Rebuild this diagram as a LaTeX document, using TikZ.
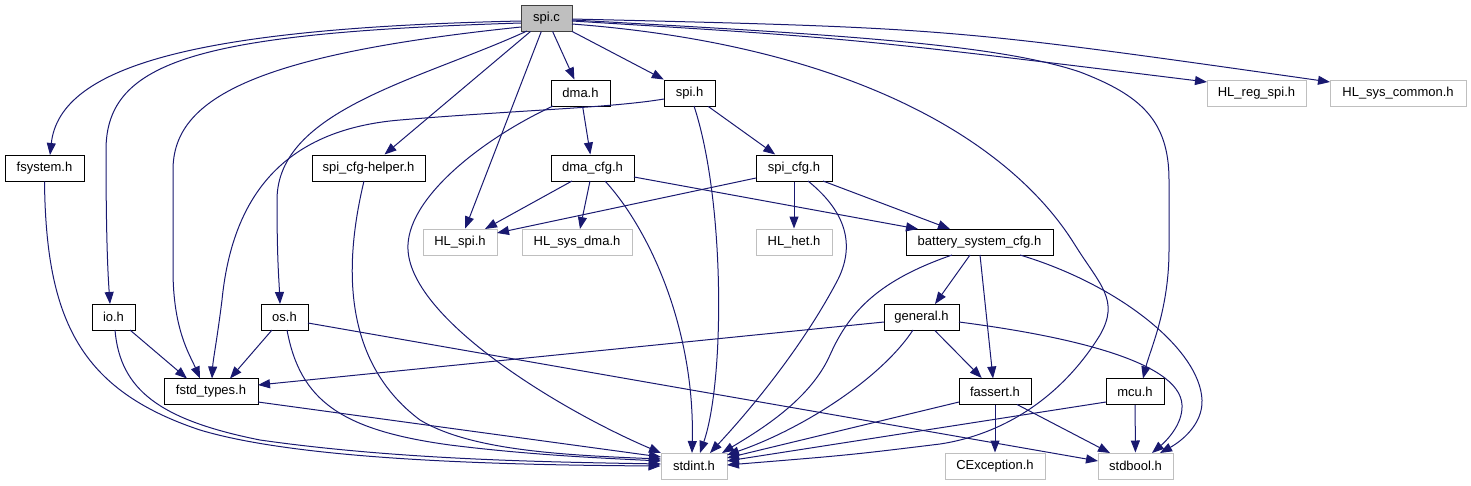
\documentclass[tikz,border=0pt]{standalone}
\usepackage{fontspec}
\setmainfont{Liberation Sans}
\usetikzlibrary{arrows.meta,calc}
\definecolor{edgeblue}{HTML}{191970}
\definecolor{lgray}{HTML}{BFBFBF}
\definecolor{dgray}{HTML}{404040}
\tikzset{
  box/.style={draw=black, line width=1pt, fill=white, minimum height=26pt, inner sep=0pt, font=\fontsize{13}{15}\selectfont},
  extbox/.style={box, draw=lgray},
  rootbox/.style={box, draw=dgray, fill=lgray},
  edge/.style={draw=edgeblue, line width=1pt, -{Triangle[length=12pt,width=9pt]}}
}
\begin{document}
\begin{tikzpicture}[x=1pt,y=-1pt]
\useasboundingbox (0,0) rectangle (1471,485);
% nodes
\node[rootbox, minimum width=51pt]  (spic)     at (546.5,18)  {spi.c};
\node[box, minimum width=59pt]      (dmah)     at (580.5,93)  {dma.h};
\node[box, minimum width=51pt]      (spih)     at (689.5,93)  {spi.h};
\node[extbox, minimum width=99pt]   (hlreg)    at (1256.5,93) {HL\_reg\_spi.h};
\node[extbox, minimum width=136pt]  (hlsys)    at (1398,93)   {HL\_sys\_common.h};
\node[box, minimum width=79pt]      (fsystem)  at (44.5,168)  {fsystem.h};
\node[box, minimum width=113pt]     (helper)   at (368.5,168) {spi\_cfg-helper.h};
\node[box, minimum width=83pt]      (dmacfg)   at (592.5,168) {dma\_cfg.h};
\node[box, minimum width=76pt]      (spicfg)   at (794,168)   {spi\_cfg.h};
\node[extbox, minimum width=74pt]   (hlspi)    at (460,242)   {HL\_spi.h};
\node[extbox, minimum width=110pt]  (hlsysdma) at (577,242)   {HL\_sys\_dma.h};
\node[extbox, minimum width=76pt]   (hlhet)    at (794,242)   {HL\_het.h};
\node[box, minimum width=147pt]     (battery)  at (979.5,242) {battery\_system\_cfg.h};
\node[box, minimum width=43pt]      (io)       at (113.5,317) {io.h};
\node[box, minimum width=47pt]      (os)       at (284.5,317) {os.h};
\node[box, minimum width=75pt]      (general)  at (921.5,317) {general.h};
\node[box, minimum width=94pt]      (fstd)     at (211,391.5) {fstd\_types.h};
\node[box, minimum width=72pt]      (fassert)  at (995,391.5) {fassert.h};
\node[box, minimum width=58pt]      (mcu)      at (1135,391.5){mcu.h};
\node[extbox, minimum width=66pt]   (stdint)   at (694,466)   {stdint.h};
\node[extbox, minimum width=100pt]  (cexc)     at (995,466)   {CException.h};
\node[extbox, minimum width=75pt]   (stdbool)  at (1135.5,466){stdbool.h};
% edges from spi.c
\draw[edge] ($(spic)+(-25.5,3)$) .. controls (200,28) and (60,65) .. ($(fsystem)+(5.5,-13)$);
\draw[edge] ($(spic)+(-25.5,5)$) .. controls (200,33) and (106,60) .. (106,150) .. controls (106,240) and (108,275) .. ($(io)+(-3.5,-13)$);
\draw[edge] ($(spic)+(-25.5,9)$) .. controls (250,55) and (173,100) .. (173,170) -- (173,270) .. controls (173,330) and (190,355) .. ($(fstd)+(-11,-13)$);
\draw[edge] ($(spic)+(-19.5,13)$) .. controls (420,80) and (277,110) .. (277,200) .. controls (277,260) and (279,280) .. ($(os)+(-4.5,-13)$);
\draw[edge] (spic) -- (helper);
\draw[edge] (spic) -- (hlspi);
\draw[edge] (spic) -- (dmah);
\draw[edge] (spic) -- (spih);
\draw[edge] ($(spic)+(25.5,3)$) .. controls (850,38) .. ($(hlreg)+(-49.5,-11)$);
\draw[edge] ($(spic)+(25.5,1)$) .. controls (950,28) .. ($(hlsys)+(-68,-11)$);
\draw[edge] ($(spic)+(25.5,2)$) .. controls (850,35) and (1000,45) .. (1080,72) .. controls (1140,95) and (1169,120) .. (1169,180) -- (1169,250) .. controls (1169,310) and (1150,350) .. ($(mcu)+(8,-13)$);
\draw[edge] ($(spic)+(25.5,6)$) .. controls (850,45) and (1010,140) .. (1075,245) .. controls (1100,285) and (1120,300) .. (1100,335) .. controls (1060,400) and (1000,435) .. (940,444) .. controls (850,455) .. ($(stdint)+(33,-1)$);
% dma.h, spi.h
\draw[edge] (dmah) -- (dmacfg);
\draw[edge] ($(dmah)+(-27.5,13)$) .. controls (480,140) and (405,200) .. (408,250) .. controls (412,320) and (560,410) .. ($(stdint)+(-33,-13)$);
\draw[edge] ($(spih)+(-25.5,6)$) .. controls (610,108) and (520,110) .. (400,120) .. controls (280,130) and (232,200) .. (222,300) .. controls (217,340) and (213,360) .. ($(fstd)+(1,-13)$);
\draw[edge] (spih) -- (spicfg);
\draw[edge] ($(spih)+(4.5,13)$) .. controls (725,200) and (725,380) .. ($(stdint)+(6,-13)$);
% dma_cfg.h
\draw[edge] ($(dmacfg)+(-20.5,13)$) -- ($(hlspi)+(25,-13)$);
\draw[edge] ($(dmacfg)+(-2.5,13)$) -- ($(hlsysdma)+(3,-13)$);
\draw[edge] ($(dmacfg)+(12.5,13)$) .. controls (650,230) and (695,330) .. ($(stdint)+(-2,-13)$);
\draw[edge] ($(dmacfg)+(41.5,9)$) -- ($(battery)+(-61.5,-13)$);
% spi_cfg.h
\draw[edge] ($(spicfg)+(-38,10)$) -- ($(hlspi)+(37,-9)$);
\draw[edge] (spicfg) -- (hlhet);
\draw[edge] ($(spicfg)+(14,13)$) .. controls (850,215) and (855,250) .. (835,285) .. controls (800,350) and (750,410) .. ($(stdint)+(16,-13)$);
\draw[edge] ($(spicfg)+(29,13)$) -- ($(battery)+(-29.5,-13)$);
% battery_system_cfg.h
\draw[edge] ($(battery)+(-9.5,13)$) -- ($(general)+(13.5,-13)$);
\draw[edge] ($(battery)+(0.5,13)$) -- ($(fassert)+(-2,-13)$);
\draw[edge] ($(battery)+(-27.5,13)$) .. controls (880,280) and (850,310) .. (830,355) .. controls (810,400) and (760,430) .. ($(stdint)+(28,-13)$);
\draw[edge] ($(battery)+(40.5,13)$) .. controls (1120,285) and (1200,350) .. (1202,400) .. controls (1203,425) and (1180,442) .. ($(stdbool)+(24.5,-13)$);
% general.h
\draw[edge] ($(general)+(-37.5,5)$) -- ($(fstd)+(47,-6.5)$);
\draw[edge] (general) -- (fassert);
\draw[edge] ($(general)+(-8.5,13)$) .. controls (880,380) and (800,430) .. ($(stdint)+(33,-11)$);
\draw[edge] ($(general)+(37.5,5)$) .. controls (1060,335) and (1180,360) .. (1182,405) .. controls (1183,425) and (1165,442) .. ($(stdbool)+(16.5,-13)$);
% fassert.h, mcu.h
\draw[edge] ($(fassert)+(-36,10.5)$) -- ($(stdint)+(33,-8)$);
\draw[edge] (fassert) -- (cexc);
\draw[edge] ($(fassert)+(22,13)$) -- ($(stdbool)+(-25.5,-13)$);
\draw[edge] ($(mcu)+(-29,10.5)$) -- ($(stdint)+(33,-5)$);
\draw[edge] (mcu) -- (stdbool);
% left side
\draw[edge] (fsystem.south) .. controls (46,320) and (80,390) .. (200,430) .. controls (300,460) and (500,465) .. (stdint.west);
\draw[edge] ($(io)+(16.5,13)$) -- ($(fstd)+(-24,-13)$);
\draw[edge] ($(io)+(1.5,13)$) .. controls (120,390) and (160,420) .. (260,440) .. controls (400,460) and (550,462) .. ($(stdint)+(-33,-2)$);
\draw[edge] ($(os)+(-12.5,13)$) -- ($(fstd)+(19,-13)$);
\draw[edge] ($(os)+(2.5,13)$) .. controls (300,400) and (340,430) .. (450,445) .. controls (530,455) and (600,458) .. ($(stdint)+(-33,-5)$);
\draw[edge] ($(os)+(23.5,6)$) -- ($(stdbool)+(-37.5,-5)$);
\draw[edge] ($(fstd)+(47,10.5)$) -- ($(stdint)+(-33,-9)$);
\draw[edge] ($(helper)+(-4.5,13)$) .. controls (345,260) and (340,360) .. (420,420) .. controls (470,450) and (560,455) .. ($(stdint)+(-33,-7)$);
\end{tikzpicture}
\end{document}
